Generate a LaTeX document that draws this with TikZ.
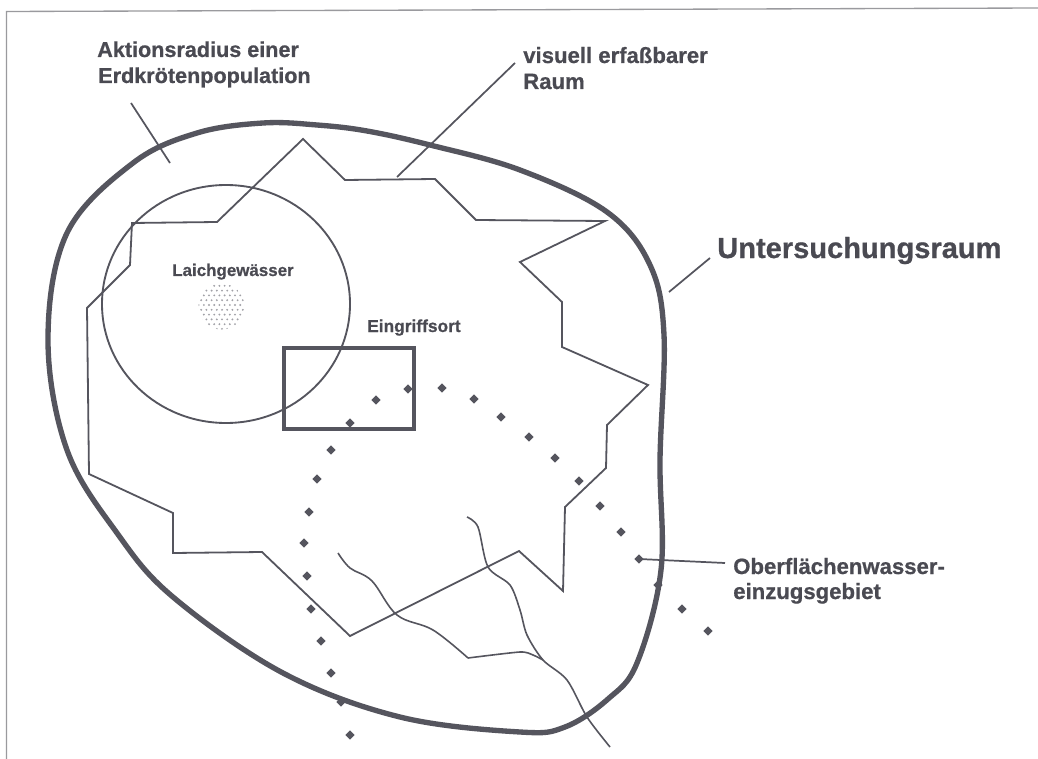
\documentclass[tikz,border=0pt]{standalone}
\usepackage{fontspec}
\usetikzlibrary{shapes.geometric}
\setmainfont{Liberation Sans}[BoldFeatures={FakeBold=0.7}]
\newcommand{\lblfont}[1]{\fontsize{#1}{#1}\selectfont\bfseries}
\definecolor{ink}{HTML}{55555E}
\definecolor{txt}{HTML}{4A4A52}
\definecolor{framecol}{HTML}{9A9A9E}
\tikzset{
  outline/.style={draw=ink,line width=4pt,line join=round},
  thinline/.style={draw=ink,line width=1.35pt,line join=miter},
  stream/.style={draw=ink,line width=1.2pt,line join=round},
  leader/.style={draw=ink,line width=1.3pt},
  lbl/.style={text=txt,inner sep=0pt,anchor=base west,align=left},
  seedot/.style={diamond,fill=ink,inner sep=0pt,minimum size=7pt}
}
\begin{document}
\begin{tikzpicture}[x=0.75pt,y=-0.75pt]
\useasboundingbox (0,0) rectangle (1038,759);
\fill[white] (0,0) rectangle (1038,759);
% frame
\draw[framecol,line width=1pt] (6.5,759) -- (6.5,11.5) -- (1038,8);
% study area
\draw[outline] plot[smooth cycle,tension=0.6] coordinates {
 (263,123) (317,125) (367,131) (430,145) (520,170) (607,212) (650,265) (664,335) (660,460)
 (661,570) (637,663) (608,699) (565,727) (520,732) (400,717) (283,673) (173,597) (117,533)
 (67,450) (48,340) (67,233) (133,163) (197,133)};
% visual space
\draw[thinline] (132,223) -- (217,222) -- (303,139) -- (345,180) -- (435,179) -- (476,220)
 -- (605,221) -- (520,262) -- (562,302) -- (562,347) -- (648,385) -- (607,425) -- (606,468)
 -- (565,507) -- (563,591) -- (519,551) -- (350,636) -- (262,552) -- (173,553) -- (173,513)
 -- (89,474) -- (87,308) -- (130,265) -- cycle;
% circle and rectangle
\node[draw=ink,line width=1.4pt,ellipse,minimum width=186pt,minimum height=178.5pt,inner sep=0pt] (radius) at (226,304) {};
\draw[ink,line width=2.4pt] (284,348) rectangle (414,429);
% stippled pond
\begin{scope}
\clip (221.5,306.5) circle[radius=23];
\foreach \i in {0,...,10}{
  \foreach \j in {0,...,10}{
    \fill[ink!55] ({196+\i*5.2+mod(\j,2)*2.6},{281+\j*4.8}) circle[radius=1.05];
  }
}
\end{scope}
% dotted catchment
\foreach \px/\py [count=\n] in {350/423,376/400,408/389,442/388,474/399,501/417,529/437,555/458,
 579/481,600/506,621/532,639/559,658/585,682/609,708/631,331/450,317/479,309/512,304/543,
 307/576,311/609,321/641,331/673,341/702,350/735}{
  \node[seedot] (d\n) at (\px,\py) {};
}
% streams
\draw[stream] plot[smooth,tension=0.6] coordinates {(338,553) (350,568) (372,581) (397,615) (433,630) (468,658)};
\draw[stream] plot[smooth,tension=0.4] coordinates {(468,658) (520,652) (533,655) (543,660)};
\draw[stream] plot[smooth,tension=0.5] coordinates {(467,517) (478,527) (488,567) (510,585) (520,610) (527,635) (543,660) (567,680) (587,717) (610,747)};
% labels
\node[lbl,font=\lblfont{16.2pt}] (aktion) at (97,57) {Aktionsradius einer};
\node[lbl,font=\lblfont{16.2pt}] (erd) at (98,83) {Erdkrötenpopulation};
\node[lbl,font=\lblfont{16.6pt}] (vis) at (523,63) {visuell erfaßbarer};
\node[lbl,font=\lblfont{16.6pt}] (raum) at (523,89) {Raum};
\node[lbl,font=\lblfont{21.8pt}] (unter) at (717,258) {Untersuchungsraum};
\node[lbl,font=\lblfont{12.7pt}] (laich) at (172,276) {Laichgewässer};
\node[lbl,font=\lblfont{13pt}] (eingriff) at (367,332) {Eingriffsort};
\node[lbl,font=\lblfont{16.6pt}] (ober) at (733,574) {Oberflächenwasser-};
\node[lbl,font=\lblfont{16.6pt}] (einzug) at (733,599) {einzugsgebiet};
% leaders
\coordinate (a1) at (131,103); \coordinate (a2) at (170,163);
\coordinate (v1) at (515,63);  \coordinate (v2) at (397,177);
\coordinate (u1) at (710,258); \coordinate (u2) at (669,292);
\coordinate (o2) at (725,563);
\draw[leader] (a1) -- (a2);
\draw[leader] (v1) -- (v2);
\draw[leader] (u1) -- (u2);
\draw[leader] (d12.center) -- (o2);
\end{tikzpicture}
\end{document}
